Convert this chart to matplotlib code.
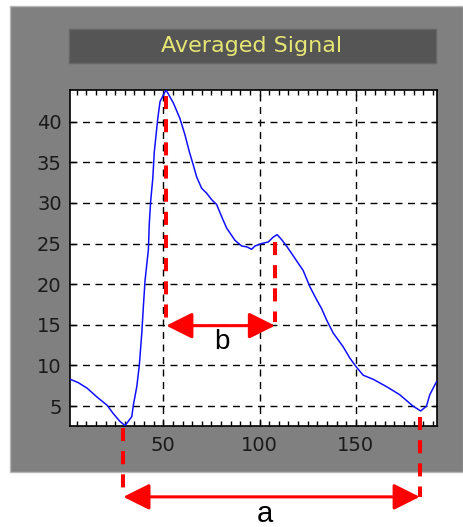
import matplotlib
matplotlib.use("Agg")
import matplotlib.pyplot as plt
from matplotlib.patches import Rectangle, FancyArrowPatch

# ---- data ----
sample = [1.6, 5.7, 10.4, 15.6, 20.8, 23.9, 27.5, 30.1, 33.6, 34.4, 36.2, 37.5, 38.8,
          39.6, 40.5, 42.2, 42.7, 43.4, 44.5, 45.3, 47.1, 48.3, 51.4, 55.2, 58.6, 61.2,
          63.5, 65.5, 67.3, 69.9, 72.5, 75.1, 77.7, 80.3, 82.9, 87.2, 90.7, 93.3, 95.8,
          97.6, 101.0, 104.5, 107.1, 109.1, 111.4, 114.0, 118.3, 122.6, 126.1, 129.6,
          132.2, 134.8, 138.2, 143.4, 146.9, 150.3, 153.8, 159.0, 165.9, 172.8, 179.7,
          183.7, 186.7, 188.4, 191.9]
signal = [8.3, 7.9, 7.2, 6.1, 5.1, 4.1, 3.1, 2.6, 3.7, 5.1, 7.4, 10.0, 14.0,
          17.2, 20.5, 24.2, 27.5, 30.2, 33.0, 36.3, 40.4, 42.5, 43.9, 42.3, 40.4, 38.4,
          36.3, 34.7, 33.2, 31.8, 31.2, 30.4, 29.8, 28.3, 26.9, 25.4, 24.7, 24.6, 24.3,
          24.7, 25.0, 25.2, 25.8, 26.1, 25.5, 24.7, 23.2, 21.7, 19.7, 18.1,
          17.0, 15.6, 14.0, 12.3, 10.9, 9.8, 8.8, 8.3, 7.4, 6.4, 5.0,
          4.4, 5.0, 6.4, 8.0]
title = "Averaged Signal"
x_ticks = [50, 100, 150]
y_ticks = [5, 10, 15, 20, 25, 30, 35, 40]

# annotation markers (data units)
b_left, b_right, b_level = 51.5, 108.0, 14.9
a_left, a_right, a_level = 29.2, 183.2, -6.17

W, H = 463, 527
fig = plt.figure(figsize=(W / 100, H / 100), dpi=100)
fig.patch.set_facecolor("white")

# gray panel
fig.patches.append(Rectangle((9.5 / W, 1 - 471.7 / H), 1 - 9.5 / W, (471.7 - 6) / H,
                             transform=fig.transFigure, facecolor="#808080",
                             edgecolor="#b8b8b8", lw=1, zorder=-10))
# title bar
fig.patches.append(Rectangle((69 / W, 1 - 63 / H), (436 - 69) / W, (63 - 29) / H,
                             transform=fig.transFigure, facecolor="#555555",
                             edgecolor="#666666", lw=1, zorder=-9))
fig.text(252 / W, 1 - 46 / H, title, color="#e6e673", fontsize=16,
         family="DejaVu Sans", ha="center", va="center")

ax = fig.add_axes([70 / W, 1 - 426 / H, (436.7 - 70) / W, (426 - 90) / H])
ax.set_facecolor("white")
ax.plot(sample, signal, color="#1010ff", lw=1.1, zorder=3)
ax.set_xlim(1.5, 192)
ax.set_ylim(2.55, 43.9)
ax.set_xticks(x_ticks)
ax.set_yticks(y_ticks)
ax.set_xticks(range(5, 192, 5), minor=True)
ax.grid(True, which="major", color="black", linestyle=(0, (5, 4)), lw=1.0)
ax.tick_params(which="both", direction="in", top=True, right=True, colors="black",
               labelcolor="#1a1a1a", labelsize=14)
ax.tick_params(which="major", length=4, width=1)
ax.tick_params(which="minor", length=3.5, width=1)
ax.tick_params(axis="x", pad=7)
ax.tick_params(axis="y", pad=6)
for s in ax.spines.values():
    s.set_linewidth(1.2)
    s.set_color("black")

red = "#ff0000"
dash = (0, (3.25, 2.5))
for (x0, y0, y1) in [(b_left, 43.2, 15.3), (b_right, 25.2, 15.3),
                     (a_left, 2.3, -6.2), (a_right, 3.6, -6.2)]:
    ax.plot([x0, x0], [y0, y1], color=red, lw=2.9, linestyle=dash,
            clip_on=False, zorder=5, solid_capstyle="butt", dash_capstyle="butt")

for (x0, x1, yl) in [(b_left, b_right, b_level), (a_left, a_right, a_level)]:
    arr = FancyArrowPatch((x0, yl), (x1, yl), transform=ax.transData,
                          arrowstyle="<|-|>,head_length=16,head_width=8",
                          mutation_scale=1, color=red, lw=2.2,
                          shrinkA=0, shrinkB=0, clip_on=False, zorder=6)
    ax.add_patch(arr)

ax.text(80.4, 12.9, "b", fontsize=20, family="Liberation Sans", color="black",
        ha="center", va="center", clip_on=False)
ax.text(102.7, -8.25, "a", fontsize=21, family="Liberation Sans", color="black",
        ha="center", va="center", clip_on=False)

fig.savefig("out.png", dpi=100)
